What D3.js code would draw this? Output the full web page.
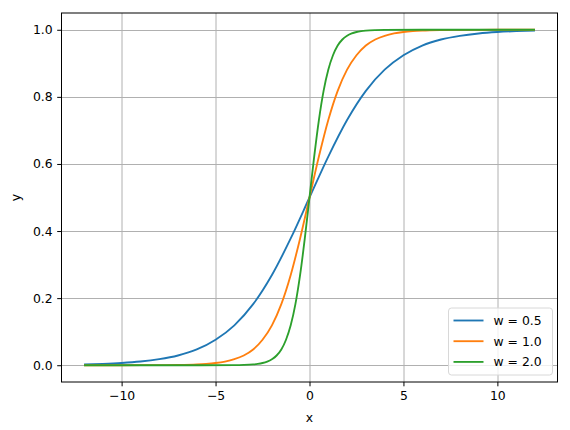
<!DOCTYPE html>
<html>
<head>
<meta charset="utf-8">
<script src="https://cdn.jsdelivr.net/npm/d3@7"></script>
<style>
  body { margin: 0; background: #fff; }
  text { font-family: "DejaVu Sans", sans-serif; font-size: 12.4px; fill: #000; }
  .grid line { stroke: #b0b0b0; stroke-width: 1; }
  .line { fill: none; stroke-width: 1.85; }
</style>
</head>
<body>
<div id="chart"></div>
<script>
// Data
const labels = ["w = 0.5", "w = 1.0", "w = 2.0"];
const colors = ["#1f77b4", "#ff7f0e", "#2ca02c"];

const xW05 = [-12, -11, -10, -9, -8, -7, -6, -5, -4, -3, -2, -1, 0, 1, 2, 3, 4, 5, 6, 7, 8, 9, 10, 11, 12];
const yW05 = [0.0025, 0.0041, 0.0067, 0.011, 0.018, 0.029, 0.047, 0.076, 0.119, 0.182, 0.269, 0.378, 0.5,
  0.622, 0.731, 0.818, 0.881, 0.924, 0.953, 0.971, 0.982, 0.989, 0.9933, 0.9959, 0.9975];

const xW10 = [-12, -10, -8, -7, -6, -5.5, -5, -4.5, -4, -3.5, -3, -2.5, -2, -1.5, -1, -0.5, 0,
  0.5, 1, 1.5, 2, 2.5, 3, 3.5, 4, 4.5, 5, 5.5, 6, 7, 8, 10, 12];
const yW10 = [0.0, 0.00005, 0.0003, 0.0009, 0.0025, 0.0041, 0.0067, 0.011, 0.018, 0.029, 0.047, 0.076, 0.119, 0.182, 0.269, 0.378, 0.5,
  0.622, 0.731, 0.818, 0.881, 0.924, 0.953, 0.971, 0.982, 0.989, 0.9933, 0.9959, 0.9975, 0.9991, 0.9997, 0.99995, 1.0];

const xW20 = [-12, -6, -4, -3.5, -3, -2.75, -2.5, -2.25, -2, -1.75, -1.5, -1.25, -1, -0.75, -0.5, -0.25, 0,
  0.25, 0.5, 0.75, 1, 1.25, 1.5, 1.75, 2, 2.25, 2.5, 2.75, 3, 3.5, 4, 6, 12];
const yW20 = [0.0, 0.000006, 0.0003, 0.0009, 0.0025, 0.0041, 0.0067, 0.011, 0.018, 0.029, 0.047, 0.076, 0.119, 0.182, 0.269, 0.378, 0.5,
  0.622, 0.731, 0.818, 0.881, 0.924, 0.953, 0.971, 0.982, 0.989, 0.9933, 0.9959, 0.9975, 0.9991, 0.9997, 0.999994, 1.0];

const xTicks = [-10, -5, 0, 5, 10];
const yTicks = [0.0, 0.2, 0.4, 0.6, 0.8, 1.0];

const series = [
  { label: labels[0], color: colors[0], values: d3.zip(xW05, yW05) },
  { label: labels[1], color: colors[1], values: d3.zip(xW10, yW10) },
  { label: labels[2], color: colors[2], values: d3.zip(xW20, yW20) },
];

// Layout
const svgWidth = 570, svgHeight = 430;
const margin = { top: 13, right: 12.5, bottom: 48, left: 61.5 };
const width = svgWidth - margin.left - margin.right;
const height = svgHeight - margin.top - margin.bottom;

const xScale = d3.scaleLinear().domain([-13.2, 13.2]).range([0, width]);
const yScale = d3.scaleLinear().domain([-0.05, 1.05]).range([height, 0]);

const svg = d3.select("#chart").append("svg")
  .attr("width", svgWidth).attr("height", svgHeight);
const g = svg.append("g")
  .attr("transform", `translate(${margin.left},${margin.top})`);

// Grid
const grid = g.append("g").attr("class", "grid");
grid.selectAll(".gx").data(xTicks).join("line")
  .attr("x1", (d) => Math.round(xScale(d)) + 0.5).attr("x2", (d) => Math.round(xScale(d)) + 0.5)
  .attr("y1", 0).attr("y2", height);
grid.selectAll(".gy").data(yTicks).join("line")
  .attr("y1", (d) => Math.round(yScale(d)) + 0.5).attr("y2", (d) => Math.round(yScale(d)) + 0.5)
  .attr("x1", 0).attr("x2", width);

// Lines
const line = d3.line()
  .x((d) => xScale(d[0]))
  .y((d) => yScale(d[1]))
  .curve(d3.curveMonotoneX);

g.append("g").selectAll(".line").data(series).join("path")
  .attr("class", "line")
  .attr("stroke", (d) => d.color)
  .attr("d", (d) => line(d.values));

// Axes
const xAxis = g.append("g")
  .attr("transform", `translate(0,${height})`)
  .call(d3.axisBottom(xScale).tickValues(xTicks).tickSize(4.3).tickPadding(4.5)
    .tickFormat((d) => d < 0 ? "\u2212" + Math.abs(d) : d));
const yAxis = g.append("g")
  .call(d3.axisLeft(yScale).tickValues(yTicks).tickSize(4.3).tickPadding(4.5)
    .tickFormat(d3.format(".1f")));
[xAxis, yAxis].forEach((a) => {
  a.select(".domain").remove();
  a.selectAll("line").attr("stroke", "#000").attr("stroke-width", 1);
  a.selectAll("text").attr("font-size", null).attr("font-family", null);
  a.attr("font-size", null).attr("font-family", null);
});

// Frame
g.append("rect")
  .attr("x", 0).attr("y", 0).attr("width", width).attr("height", height)
  .attr("fill", "none").attr("stroke", "#000").attr("stroke-width", 1);

// Axis titles
g.append("text")
  .attr("x", width / 2).attr("y", height + 40)
  .attr("text-anchor", "middle").text("x");
g.append("text")
  .attr("transform", `translate(${-42},${height / 2}) rotate(-90)`)
  .attr("text-anchor", "middle").text("y");

// Legend
const legW = 104, legH = 67;
const legend = g.append("g")
  .attr("transform", `translate(${width - legW - 5},${height - legH - 7})`);
legend.append("rect")
  .attr("width", legW).attr("height", legH).attr("rx", 3)
  .attr("fill", "#fff").attr("fill-opacity", 0.8)
  .attr("stroke", "#d8d8d8").attr("stroke-width", 1);
const item = legend.selectAll(".legend-item").data(series).join("g")
  .attr("class", "legend-item")
  .attr("transform", (d, i) => `translate(0,${12.5 + i * 20.7})`);
item.append("line")
  .attr("x1", 5).attr("x2", 35)
  .attr("stroke", (d) => d.color).attr("stroke-width", 1.85);
item.append("text")
  .attr("x", 45).attr("dy", "0.35em")
  .text((d) => d.label);
</script>
</body>
</html>
